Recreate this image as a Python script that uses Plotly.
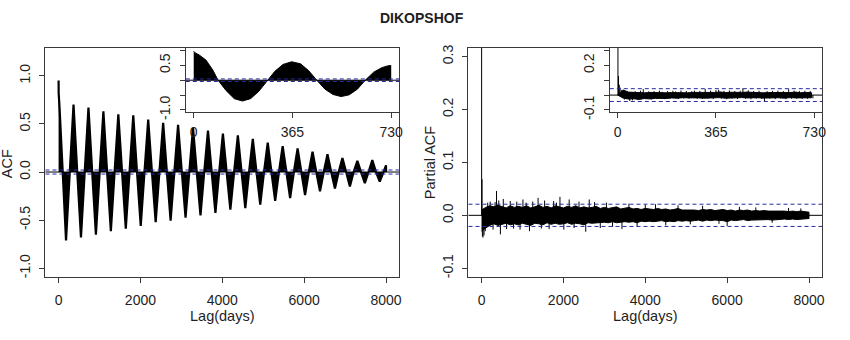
import plotly.graph_objects as go

# ---------------- DATA ----------------
title_text = "DIKOPSHOF"

# Main ACF (lag 0 .. 8000): head of first lobe, then yearly peaks / troughs
acf_head_lag = [0, 2, 25, 50, 70]
acf_head_val = [0.95, 0.82, 0.66, 0.42, 0.22]
acf_peak_lag = [365 * k for k in range(1, 22)]
acf_peak_val = [0.70, 0.67, 0.63, 0.60, 0.59, 0.545, 0.51, 0.49, 0.46, 0.43, 0.40,
                0.38, 0.345, 0.305, 0.27, 0.245, 0.21, 0.185, 0.145, 0.115, 0.125]
acf_trough_lag = [182 + 365 * k for k in range(0, 22)]
acf_trough_val = [-0.71, -0.68, -0.65, -0.615, -0.59, -0.56, -0.52, -0.505, -0.475, -0.45, -0.425,
                  -0.39, -0.375, -0.34, -0.30, -0.27, -0.24, -0.20, -0.17, -0.15, -0.115, -0.10]
acf_end_lag = 8000
acf_end_val = 0.07
acf_ci = 0.021

# Inset ACF (lag 0 .. 730)
acf_in_lag = [0, 5, 20, 45, 70, 90, 120, 150, 180, 210, 240, 275, 300, 330, 362, 395,
              425, 455, 485, 515, 545, 575, 605, 634, 665, 695, 720, 730]
acf_in_val = [0.97, 0.92, 0.85, 0.68, 0.35, 0.0, -0.35, -0.62, -0.70, -0.62, -0.38, 0.0,
              0.30, 0.53, 0.62, 0.55, 0.32, 0.0, -0.30, -0.48, -0.55, -0.49, -0.30, 0.0,
              0.27, 0.42, 0.49, 0.49]
acf_in_ci = 0.043

# Main PACF (lag 1 .. 8000): dense core band every 100 lags + individual spikes
pacf_env_lag = list(range(0, 8001, 100))
pacf_hi = [0.010, 0.015, 0.018, 0.016, 0.019, 0.016, 0.014, 0.018, 0.015, 0.017, 0.015,
           0.018, 0.014, 0.016, 0.019, 0.015, 0.017, 0.014, 0.018, 0.016, 0.014,
           0.017, 0.015, 0.018, 0.014, 0.016, 0.014, 0.015, 0.017, 0.013, 0.015,
           0.013, 0.014, 0.016, 0.012, 0.013, 0.015, 0.012, 0.013, 0.011, 0.013,
           0.012, 0.011, 0.013, 0.011, 0.012, 0.010, 0.011, 0.013, 0.010, 0.010,
           0.011, 0.010, 0.009, 0.011, 0.010, 0.011, 0.009, 0.010, 0.011, 0.009,
           0.010, 0.008, 0.010, 0.009, 0.010, 0.008, 0.009, 0.008, 0.009, 0.008,
           0.008, 0.009, 0.008, 0.008, 0.007, 0.008, 0.007, 0.008, 0.007, 0.006]
pacf_lo = [-0.030, -0.024, -0.019, -0.016, -0.019, -0.017, -0.015, -0.018, -0.016, -0.018, -0.015,
           -0.017, -0.019, -0.015, -0.016, -0.018, -0.014, -0.017, -0.015, -0.017, -0.016,
           -0.014, -0.017, -0.015, -0.016, -0.018, -0.014, -0.015, -0.014, -0.014, -0.013,
           -0.014, -0.012, -0.014, -0.013, -0.012, -0.013, -0.012, -0.014, -0.011, -0.012,
           -0.011, -0.012, -0.011, -0.010, -0.012, -0.011, -0.012, -0.010, -0.011, -0.010,
           -0.011, -0.010, -0.009, -0.011, -0.009, -0.010, -0.009, -0.009, -0.010, -0.012,
           -0.009, -0.010, -0.009, -0.008, -0.010, -0.009, -0.008, -0.009, -0.008, -0.008,
           -0.009, -0.008, -0.008, -0.007, -0.008, -0.007, -0.008, -0.008, -0.007, -0.006]
pacf_spike_lag = [1, 12, 20, 35, 60, 90, 150, 210, 280, 330, 365, 420, 460, 530, 610, 700,
                  780, 860, 940, 1010, 1090, 1170, 1250, 1380, 1460, 1540, 1650, 1760, 1830,
                  1915, 2010, 2140, 2260, 2380, 2545, 2630, 2760, 2900, 3050, 3200, 3430,
                  3600, 3800, 4000, 4250, 4500, 4800, 5100, 5400, 5800, 6000, 6300, 6700,
                  7100, 7500, 7800]
pacf_spike_val = [0.93, 0.068, -0.040, -0.042, -0.038, -0.030, 0.024, 0.026, -0.027, 0.025,
                  0.046, 0.028, -0.036, 0.031, -0.026, 0.027, -0.025, 0.026, -0.027, 0.030,
                  0.024, -0.030, 0.026, 0.033, -0.025, 0.028, -0.026, 0.027, 0.024, 0.035,
                  -0.027, 0.030, -0.024, 0.026, -0.031, 0.030, 0.025, -0.024, 0.024, -0.022,
                  -0.026, 0.022, -0.021, 0.020, 0.021, -0.019, 0.019, -0.017, 0.018, -0.016,
                  -0.020, 0.016, 0.015, -0.014, 0.014, 0.013]
pacf_ci = 0.021

# Inset PACF (lag 1 .. 730): core band every 20 lags + spikes
pacf_in_env_lag = list(range(0, 721, 20))
pacf_in_hi = [0.0, 0.034, 0.020, 0.017, 0.019, 0.015, 0.018, 0.016, 0.019, 0.015,
              0.017, 0.016, 0.019, 0.015, 0.018, 0.017, 0.020, 0.016, 0.018, 0.021,
              0.017, 0.019, 0.016, 0.018, 0.020, 0.017, 0.018, 0.015, 0.017, 0.016,
              0.019, 0.016, 0.017, 0.020, 0.016, 0.018, 0.016]
pacf_in_lo = [0.0, -0.020, -0.027, -0.025, -0.029, -0.023, -0.026, -0.022, -0.020, -0.023,
              -0.019, -0.021, -0.018, -0.020, -0.017, -0.019, -0.021, -0.018, -0.020, -0.017,
              -0.021, -0.018, -0.020, -0.017, -0.019, -0.021, -0.018, -0.020, -0.017, -0.020,
              -0.018, -0.021, -0.017, -0.019, -0.018, -0.020, -0.018]
pacf_in_spike_lag = [1, 3, 6, 9] + list(range(15, 726, 10))
pacf_in_spike_val = [0.90, 0.128, 0.070, 0.050,
                     0.035, -0.030, 0.028, -0.040, -0.035, 0.026, -0.032, 0.030, 0.040, -0.028,
                     0.025, -0.030, 0.027, -0.026, 0.030, 0.022, -0.028, 0.026, -0.024, 0.029,
                     0.024, -0.027, 0.031, -0.022, 0.027, -0.025, 0.026, 0.030, -0.024, 0.028,
                     -0.026, 0.042, -0.023, 0.030, -0.027, 0.033, 0.036, -0.025, 0.028, -0.028,
                     0.031, -0.024, 0.027, -0.026, 0.029, 0.045, -0.025, 0.032, -0.028, 0.027,
                     -0.024, 0.029, -0.026, -0.044, 0.026, -0.024, 0.028, -0.027, 0.030, -0.023,
                     0.027, -0.028, 0.040, -0.025, 0.030, -0.024, 0.027, -0.026, 0.029, -0.025,
                     0.028, -0.022]
pacf_in_ci = 0.043

# Axis ticks
main_x_ticks = [0, 2000, 4000, 6000, 8000]
inset_x_ticks = [0, 365, 730]
acf_y_ticks = [-1.0, -0.5, 0.0, 0.5, 1.0]
acf_y_text = ["-1.0", "-0.5", "0.0", "0.5", "1.0"]
acf_in_y_text = ["-1.0", "", "", "0.5", ""]
pacf_y_ticks = [-0.1, 0.0, 0.1, 0.2, 0.3]
pacf_y_text = ["-0.1", "0.0", "0.1", "0.2", "0.3"]
pacf_in_y_text = ["-0.1", "", "", "0.2", ""]

# ---------------- BUILD ----------------
W, H = 850, 340
FONT = "Liberation Sans, Arial, sans-serif"
FRAME = "#3a3a3a"
TXT = "#1e1e1e"
CI_COL = "#2a2aa0"


def px_x(p):
    return p / W


def px_y(p):
    return 1 - p / H


# Main ACF polygon (lines joining the read extremes through zero crossings)
ax, ay = list(acf_head_lag), list(acf_head_val)
nodes = []
for i, (tl, tv) in enumerate(zip(acf_trough_lag, acf_trough_val)):
    nodes.append((tl, tv))
    if i < len(acf_peak_lag):
        nodes.append((acf_peak_lag[i], acf_peak_val[i]))
prev_l = 0
for (l, v) in nodes:
    ax.append((prev_l + l) / 2)
    ay.append(0.0)
    ax.append(l)
    ay.append(v)
    prev_l = l
ax.append(prev_l + 91)
ay.append(0.0)
ax.append(acf_end_lag)
ay.append(acf_end_val)
ax.append(acf_end_lag)
ay.append(0.0)

fig = go.Figure()

fig.add_trace(go.Scatter(x=ax, y=ay, mode="lines", fill="tozeroy",
                         line=dict(color="black", width=2.2), fillcolor="black",
                         xaxis="x", yaxis="y", hoverinfo="skip"))

fig.add_trace(go.Scatter(x=acf_in_lag, y=acf_in_val, mode="lines", fill="tozeroy",
                         line=dict(color="black", width=1), fillcolor="black",
                         xaxis="x3", yaxis="y3", hoverinfo="skip"))


def band(lags, hi, lo, xa, ya):
    bx = list(lags) + list(lags)[::-1]
    by = list(hi) + list(lo)[::-1]
    fig.add_trace(go.Scatter(x=bx, y=by, mode="lines", fill="toself",
                             line=dict(color="black", width=1), fillcolor="black",
                             xaxis=xa, yaxis=ya, hoverinfo="skip"))


def spikes(lags, vals, xa, ya):
    sx, sy = [], []
    for l, v in zip(lags, vals):
        sx += [l, l, None]
        sy += [0, v, None]
    fig.add_trace(go.Scatter(x=sx, y=sy, mode="lines",
                             line=dict(color="black", width=1),
                             xaxis=xa, yaxis=ya, hoverinfo="skip"))


band(pacf_env_lag, pacf_hi, pacf_lo, "x2", "y2")
spikes(pacf_spike_lag, pacf_spike_val, "x2", "y2")
band(pacf_in_env_lag, pacf_in_hi, pacf_in_lo, "x4", "y4")
spikes(pacf_in_spike_lag, pacf_in_spike_val, "x4", "y4")

# Domains (from pixel frames)
main_y_dom = [px_y(282.7), px_y(45.7)]
ins_y_dom = [px_y(112.3), px_y(45.7)]
acf_x_dom = [px_x(45.7), px_x(401)]
pacf_x_dom = [px_x(470.7), px_x(826)]
acf_in_x_dom = [px_x(186.7), px_x(401)]
pacf_in_x_dom = [px_x(612.7), px_x(826)]

axis_common = dict(showline=True, mirror=True, linecolor=FRAME, linewidth=1,
                   ticks="outside", ticklen=5, tickcolor=FRAME, tickwidth=1,
                   showgrid=False, zeroline=False,
                   tickfont=dict(family=FONT, size=14, color=TXT))

main_xr = [-320, 8320]
ins_xr = [-29.2, 759.2]

fig.update_layout(
    width=W, height=H, margin=dict(l=0, r=0, t=0, b=0),
    paper_bgcolor="white", plot_bgcolor="rgba(0,0,0,0)",
    showlegend=False,
    xaxis=dict(domain=acf_x_dom, range=main_xr, tickvals=main_x_ticks,
               anchor="y", ticklabelstandoff=5, **axis_common),
    yaxis=dict(domain=main_y_dom, range=[-1.088, 1.288], tickvals=acf_y_ticks,
               ticktext=acf_y_text, tickangle=-90, anchor="x", ticklabelstandoff=4,
               **axis_common),
    xaxis2=dict(domain=pacf_x_dom, range=main_xr, tickvals=main_x_ticks,
                anchor="y2", ticklabelstandoff=5, **axis_common),
    yaxis2=dict(domain=main_y_dom, range=[-0.116, 0.316], tickvals=pacf_y_ticks,
                ticktext=pacf_y_text, tickangle=-90, anchor="x2", ticklabelstandoff=4,
                **axis_common),
    xaxis3=dict(domain=acf_in_x_dom, range=ins_xr, tickvals=inset_x_ticks,
                anchor="y3", ticklabelstandoff=2, **axis_common),
    yaxis3=dict(domain=ins_y_dom, range=[-1.08, 1.08], tickvals=acf_y_ticks,
                ticktext=acf_in_y_text, tickangle=-90, anchor="x3", ticklabelstandoff=4,
                **axis_common),
    xaxis4=dict(domain=pacf_in_x_dom, range=ins_xr, tickvals=inset_x_ticks,
                anchor="y4", ticklabelstandoff=2, **axis_common),
    yaxis4=dict(domain=ins_y_dom, range=[-0.116, 0.316], tickvals=pacf_y_ticks,
                ticktext=pacf_in_y_text, tickangle=-90, anchor="x4", ticklabelstandoff=4,
                **axis_common),
)

# Inset white backgrounds (plot areas)
for xd in (acf_in_x_dom, pacf_in_x_dom):
    fig.add_shape(type="rect", xref="paper", yref="paper", x0=xd[0], x1=xd[1],
                  y0=ins_y_dom[0], y1=ins_y_dom[1], fillcolor="white",
                  line=dict(width=0), layer="below")

# Zero lines and confidence bounds
for xa, ya, ci in (("x", "y", acf_ci), ("x2", "y2", pacf_ci),
                   ("x3", "y3", acf_in_ci), ("x4", "y4", pacf_in_ci)):
    xd = xa + " domain"
    fig.add_shape(type="line", xref=xd, yref=ya, x0=0, x1=1, y0=0, y1=0,
                  line=dict(color="black", width=1), layer="above")
    for s in (1, -1):
        fig.add_shape(type="line", xref=xd, yref=ya, x0=0, x1=1, y0=s * ci, y1=s * ci,
                      line=dict(color=CI_COL, width=1, dash="4px,3px"), layer="above")

# Titles
ann_font = dict(family=FONT, size=14.5, color=TXT)
fig.add_annotation(text="<b>%s</b>" % title_text, xref="paper", yref="paper",
                   x=px_x(424), y=px_y(15), xanchor="center", yanchor="middle",
                   showarrow=False, font=dict(family=FONT, size=14, color=TXT))
for cx in (223, 648):
    fig.add_annotation(text="Lag(days)", xref="paper", yref="paper",
                       x=px_x(cx), y=px_y(323), xanchor="center", yanchor="middle",
                       showarrow=False, font=ann_font)
fig.add_annotation(text="ACF", xref="paper", yref="paper", textangle=-90,
                   x=px_x(7), y=px_y(165), xanchor="center", yanchor="middle",
                   showarrow=False, font=ann_font)
fig.add_annotation(text="Partial ACF", xref="paper", yref="paper", textangle=-90,
                   x=px_x(432), y=px_y(164), xanchor="center", yanchor="middle",
                   showarrow=False, font=ann_font)

fig.write_html("out.html")
